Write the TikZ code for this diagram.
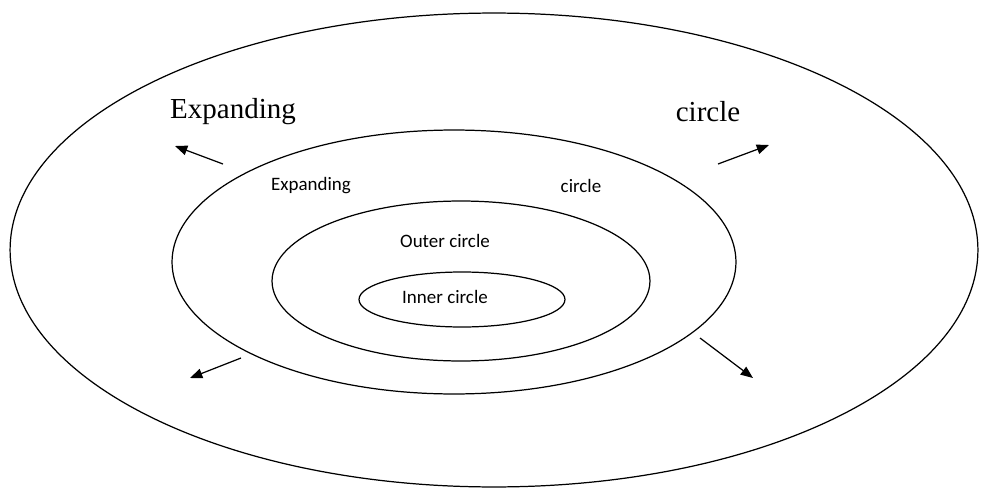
\documentclass[tikz,border=0pt]{standalone}
\usepackage{fontspec}
\setmainfont{Liberation Serif}
\newfontfamily\smallfont{Carlito}
\usepackage{tikz}
\usetikzlibrary{arrows.meta,positioning,calc}

\begin{document}
\begin{tikzpicture}[
        x=0.02cm, y=-0.02cm,
        ring/.style={draw, line width=0.7pt},
        biglabel/.style={font=\fontsize{16.5}{18}\selectfont, inner sep=0pt},
        smalllabel/.style={font=\smallfont\fontsize{10.8}{12}\selectfont, inner sep=0pt},
        arrow/.style={-{Triangle[length=7pt,width=5.5pt]}, line width=0.7pt}
    ]
        \useasboundingbox (0,0) rectangle (981,490);
        % rings
        \draw[ring] (494,250) ellipse [x radius=9.68cm, y radius=4.74cm];
        \draw[ring] (454,262) ellipse [x radius=5.64cm, y radius=2.64cm];
        \draw[ring] (461,281) ellipse [x radius=3.78cm, y radius=1.6cm];
        \draw[ring] (462,299.5) ellipse [x radius=2.06cm, y radius=0.55cm];

        \node[biglabel] (expandbig) at (233,112) {Expanding};
        \node[biglabel] (circlebig) at (708,112) {circle};
        \node[smalllabel] (expandsmall) at (311,186) {Expanding};
        \node[smalllabel] (circlesmall) at (581,186) {circle};
        \node[smalllabel] (outer) at (445,241) {Outer circle};
        \node[smalllabel] (inner) at (445,297) {Inner circle};

        % arrows
        \coordinate (ultail) at (223,164);
        \coordinate (ulhead) at (175,146);
        \coordinate (urtail) at (718,164);
        \coordinate (urhead) at (769,145);
        \coordinate (lltail) at (241,358);
        \coordinate (llhead) at (190,378);
        \coordinate (lrtail) at (700,338);
        \coordinate (lrhead) at (753,378);
        \draw[arrow] (ultail) -- (ulhead);
        \draw[arrow] (urtail) -- (urhead);
        \draw[arrow] (lltail) -- (llhead);
        \draw[arrow] (lrtail) -- (lrhead);
    \end{tikzpicture}
\end{document}
